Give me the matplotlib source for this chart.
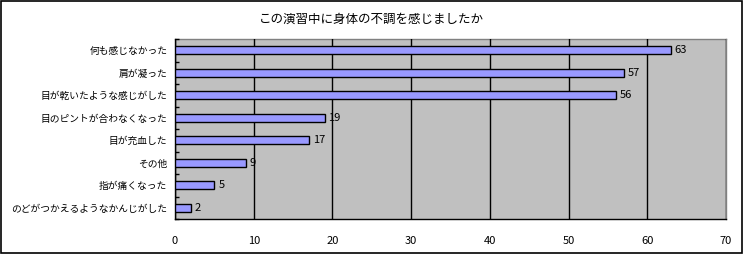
import matplotlib
matplotlib.use("Agg")
import matplotlib.pyplot as plt
from matplotlib.patches import Rectangle
import numpy as np

plt.rcParams["font.family"] = ["Noto Sans CJK JP", "DejaVu Sans"]

# データ（上から順）
categories = [
    "何も感じなかった",
    "肩が凝った",
    "目が乾いたような感じがした",
    "目のピントが合わなくなった",
    "目が充血した",
    "その他",
    "指が痛くなった",
    "のどがつかえるようなかんじがした",
]
values = [63, 57, 56, 19, 17, 9, 5, 2]
x_ticks = [0, 10, 20, 30, 40, 50, 60, 70]
title = "この演習中に身体の不調を感じましたか"

fig = plt.figure(figsize=(7.43, 2.54), dpi=100)
ax = fig.add_axes([175 / 743, 35 / 254, 551 / 743, 180 / 254])

n = len(categories)
ypos = np.arange(n)[::-1]

ax.set_facecolor("#C0C0C0")
ax.barh(ypos, values, height=0.36, color="#9999FF", edgecolor="black",
        linewidth=1, zorder=3)

for y, v in zip(ypos, values):
    ax.text(v + 0.5, y, str(v), va="center", ha="left", fontsize=8,
            zorder=1.5)

ax.set_xlim(0, 70)
ax.set_ylim(-0.5, n - 0.5)
ax.set_xticks(x_ticks)
ax.set_xticklabels([str(t) for t in x_ticks], fontsize=8)
ax.tick_params(axis="x", length=0, pad=12)

ax.set_yticks(ypos)
ax.set_yticklabels(categories, fontsize=7.0)
ax.tick_params(axis="y", which="major", length=0, pad=5.5)
ax.set_yticks(np.arange(-0.5, n, 1.0), minor=True)
ax.tick_params(axis="y", which="minor", length=3, direction="in",
               color="black", width=1)

ax.xaxis.grid(True, color="black", linewidth=1, zorder=2)
ax.set_axisbelow(False)
for side in ["top", "right"]:
    ax.spines[side].set_color("#808080")
    ax.spines[side].set_linewidth(1)
for side in ["left", "bottom"]:
    ax.spines[side].set_color("black")
    ax.spines[side].set_linewidth(1)

fig.text(0.5, 1 - 19 / 254, title, ha="center", va="center", fontsize=9)

fig.patches.append(Rectangle((0.001, 0.002), 0.997, 0.995,
                             transform=fig.transFigure, fill=False,
                             edgecolor="black", linewidth=1.2))

plt.savefig("out.png", dpi=100)
